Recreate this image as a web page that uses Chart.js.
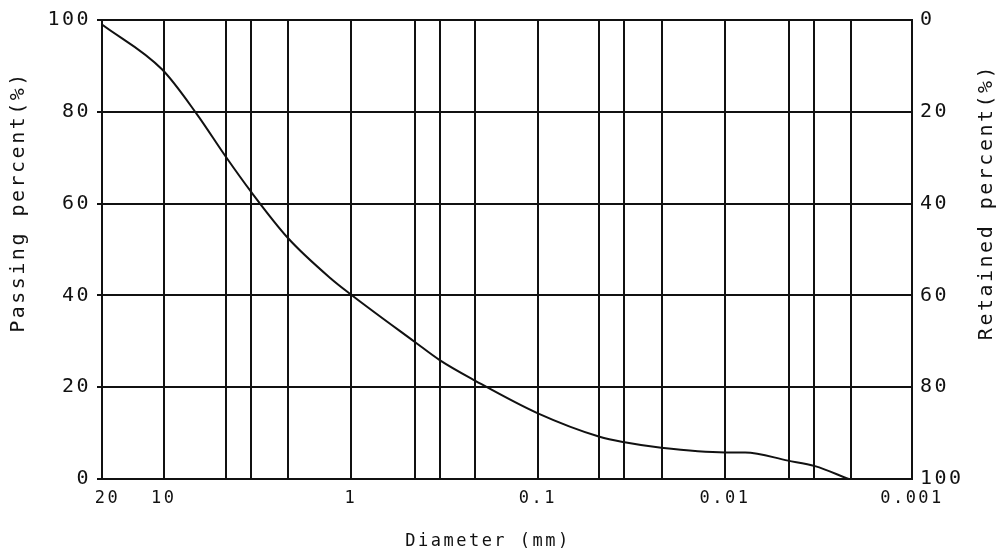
<!DOCTYPE html>
<html lang="en">
<head>
    <meta charset="UTF-8">
    <title>Grain Size Distribution</title>
    <script src="https://cdn.jsdelivr.net/npm/chart.js"></script>
    <style>
        html, body { margin: 0; padding: 0; background: #fff; }
        #wrap { width: 1004px; height: 559px; }
    </style>
</head>
<body>
    <div id="wrap"><canvas id="gradation"></canvas></div>

    <script>
        // values (diameter in mm, passing in %)
        const diameters = [21.4, 10.2, 6.66, 4.66, 3.42, 2.17, 1.29, 1.0, 0.453, 0.335, 0.216, 0.1, 0.0468, 0.0344, 0.0219, 0.01, 0.0078, 0.0046, 0.0033, 0.00218];
        const passing = [99.0, 89.2, 79.5, 70.2, 62.6, 52.5, 43.8, 40.2, 29.8, 25.9, 21.4, 14.3, 9.2, 8.0, 6.8, 5.8, 5.8, 4.0, 2.8, 0];

        // vertical grid lines and labelled diameters
        const xGridValues = [10, 4.66, 3.42, 2.17, 1, 0.453, 0.335, 0.217, 0.1, 0.0469, 0.0347, 0.0216, 0.01, 0.00456, 0.00335, 0.00213, 0.001];
        const xLabelValues = [20, 10, 1, 0.1, 0.01, 0.001];
        const xMin = 0.001;
        const xMax = 21.4;

        const INK = '#111';
        const MONO = '"DejaVu Sans Mono", monospace';

        const spacing = {
            id: 'spacing',
            beforeUpdate(chart) { chart.ctx.letterSpacing = '2.5px'; },
            beforeDraw(chart) { chart.ctx.letterSpacing = '2.5px'; }
        };

        const axisTitles = {
            id: 'axisTitles',
            afterDraw(chart) {
                const { ctx, chartArea: a } = chart;
                ctx.save();
                ctx.fillStyle = INK;
                ctx.letterSpacing = '2.5px';
                ctx.textAlign = 'center';
                ctx.textBaseline = 'middle';
                ctx.font = '20px ' + MONO;

                ctx.save();
                ctx.translate(a.left - 83, a.top + 182);
                ctx.rotate(-Math.PI / 2);
                ctx.fillText('Passing percent(%)', 0, 0);
                ctx.restore();

                ctx.save();
                ctx.translate(a.right + 75, a.top + 182);
                ctx.rotate(-Math.PI / 2);
                ctx.fillText('Retained percent(%)', 0, 0);
                ctx.restore();

                ctx.font = '17px ' + MONO;
                ctx.fillText('Diameter (mm)', a.left + 386, a.bottom + 63);
                ctx.restore();
            }
        };

        new Chart(document.getElementById('gradation'), {
            type: 'line',
            data: {
                datasets: [{
                    data: diameters.map((d, i) => ({ x: d, y: passing[i] })),
                    borderColor: INK,
                    borderWidth: 2,
                    pointRadius: 0,
                    fill: false,
                    cubicInterpolationMode: 'monotone'
                }]
            },
            options: {
                responsive: true,
                maintainAspectRatio: false,
                animation: false,
                devicePixelRatio: 1,
                layout: { padding: { top: 16, left: 0, right: 0, bottom: 0 } },
                plugins: {
                    legend: { display: false },
                    tooltip: { enabled: false }
                },
                scales: {
                    x: {
                        type: 'logarithmic',
                        reverse: true,
                        min: xMin,
                        max: xMax,
                        afterBuildTicks: scale => {
                            scale.ticks = [20, ...xGridValues].map(v => ({ value: v }));
                        },
                        afterFit: scale => { scale.height = 80; },
                        grid: {
                            color: ctx => (ctx.tick && ctx.tick.value === 20) ? 'rgba(0,0,0,0)' : INK,
                            lineWidth: 2,
                            drawTicks: false
                        },
                        border: { display: true, color: INK, width: 2 },
                        ticks: {
                            autoSkip: false,
                            maxRotation: 0,
                            minRotation: 0,
                            padding: 9,
                            color: INK,
                            font: { family: MONO, size: 17 },
                            callback: v => xLabelValues.includes(v) ? String(v) : ''
                        }
                    },
                    y: {
                        type: 'linear',
                        position: 'left',
                        min: 0,
                        max: 100,
                        afterFit: scale => { scale.width = 102; },
                        grid: { color: INK, lineWidth: 2, tickLength: 5 },
                        border: { display: true, color: INK, width: 2 },
                        ticks: {
                            stepSize: 20,
                            padding: 6,
                            color: INK,
                            font: { family: MONO, size: 20 }
                        }
                    },
                    y2: {
                        type: 'linear',
                        position: 'right',
                        min: 0,
                        max: 100,
                        reverse: true,
                        afterFit: scale => { scale.width = 92; },
                        grid: { display: false, drawTicks: false },
                        border: { display: true, color: INK, width: 2 },
                        ticks: {
                            stepSize: 20,
                            padding: 8,
                            color: INK,
                            font: { family: MONO, size: 20 }
                        }
                    }
                }
            },
            plugins: [spacing, axisTitles]
        });
    </script>
</body>
</html>
